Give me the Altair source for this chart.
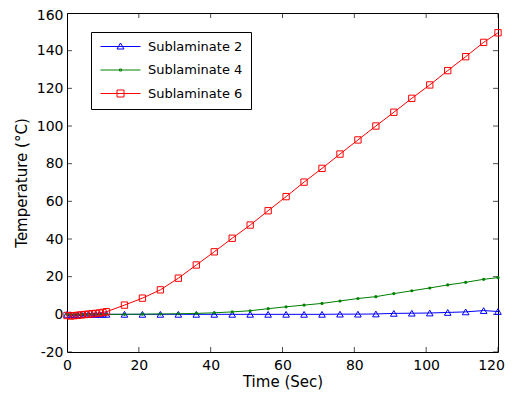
import altair as alt
import pandas as pd

# ---- data ----
time_s = [0, 1, 2, 3, 4, 5, 6, 7, 8, 9, 10, 11, 16, 21, 26, 31, 36, 41, 46, 51,
          56, 61, 66, 71, 76, 81, 86, 91, 96, 101, 106, 111, 116, 120]
sub2 = [0.0, -0.2, -0.3, -0.2, -0.1, 0.0, 0.0, 0.0, 0.0, 0.0, 0.0, 0.0,
        0.0, 0.0, 0.0, 0.0, 0.0, 0.0, 0.0, 0.0, 0.0, 0.0, 0.0, 0.0, 0.1, 0.1, 0.2,
        0.5, 0.6, 0.7, 1.0, 1.3, 2.0, 1.5]
sub4 = [0.0, 0.0, 0.0, 0.0, 0.0, 0.0, 0.0, 0.0, 0.0, 0.0, 0.0, 0.0,
        0.0, 0.1, 0.2, 0.3, 0.5, 0.8, 1.3, 1.9, 3.0, 4.0, 4.9, 5.8, 7.1, 8.4, 9.4,
        11.0, 12.5, 14.0, 15.6, 17.0, 18.6, 19.5]
sub6 = [-0.6, -0.9, -0.7, -0.5, -0.3, -0.1, 0.1, 0.3, 0.5, 0.7, 1.0, 1.4,
        4.9, 8.6, 13.0, 19.2, 26.2, 33.2, 40.4, 47.4, 55.0, 62.5, 70.2, 77.5, 85.1, 92.6, 100.0,
        107.3, 114.7, 121.8, 129.4, 136.8, 144.4, 149.5]
series_names = ["Sublaminate 2", "Sublaminate 4", "Sublaminate 6"]
colors = ["#0000ff", "#008000", "#ff0000"]
x_ticks = [0, 20, 40, 60, 80, 100, 120]
y_ticks = [-20, 0, 20, 40, 60, 80, 100, 120, 140, 160]

# legend symbols: line segment + marker (custom paths)
legend_paths = [
    "M-1,0H7M3,-0.7L3.7,0.5H2.3Z",
    "M-1,0H7M2.8,-0.2H3.2V0.2H2.8Z",
    "M-1,0H7M2.3,-0.7H3.7V0.7H2.3Z",
]

rows = []
for name, vals in zip(series_names, [sub2, sub4, sub6]):
    for t, v in zip(time_s, vals):
        rows.append({"t": t, "temp": v, "series": name})
df = pd.DataFrame(rows)
xtick_df = pd.DataFrame({"v": x_ticks})
ytick_df = pd.DataFrame({"v": y_ticks})

FONT = "DejaVu Sans"
xscale = alt.Scale(domain=[0, 120], nice=False, zero=False)
yscale = alt.Scale(domain=[-20, 160], nice=False, zero=False)
cscale = alt.Scale(domain=series_names, range=colors)

ax_x = alt.Axis(
    orient="bottom", values=x_ticks, title="Time (Sec)", ticks=False, tickSize=0,
    domain=False, grid=False, labelPadding=6, labelFlush=False, labelOverlap=False,
    labelFontSize=14, labelFont=FONT, labelColor="black", labelExpr="'' + datum.value",
    labelOffset={"condition": {"test": "datum.value === 120", "value": -7}, "value": 0},
    titleFontSize=15, titleFont=FONT, titleFontWeight="normal", titleColor="black",
    titlePadding=2)
ax_y = alt.Axis(
    orient="left", values=y_ticks, title="Temperature (°C)", ticks=False, tickSize=0,
    domain=False, grid=False, labelPadding=4, labelFlush=False, labelOverlap=False,
    labelFontSize=14, labelFont=FONT, labelColor="black", labelExpr="'' + datum.value",
    labelOffset={"condition": {"test": "datum.value === 160", "value": 2}, "value": 0},
    titleFontSize=15, titleFont=FONT, titleFontWeight="normal", titleColor="black",
    titlePadding=7)

def X(field):
    return alt.X(field, scale=xscale, axis=ax_x)

def Y(field):
    return alt.Y(field, scale=yscale, axis=ax_y)

c_none = alt.Color("series:N", scale=cscale, legend=None)

leg = alt.Legend(title=None, orient="none", legendX=24, legendY=19, padding=8,
                 rowPadding=9.5, labelOffset=36, symbolSize=100, symbolStrokeWidth=1,
                 labelFontSize=13, labelFont=FONT, labelColor="black",
                 strokeColor="black", fillColor="white", cornerRadius=0, symbolOpacity=1,
                 symbolFillColor="transparent")

base = alt.Chart(df)

# legend carrier (no marks drawn), first so its legend settings win
legend_layer = base.transform_filter("false").mark_point(filled=False).encode(
    x=X("t:Q"), y=Y("temp:Q"),
    color=alt.Color("series:N", scale=cscale, legend=leg),
    shape=alt.Shape("series:N", scale=alt.Scale(domain=series_names, range=legend_paths), legend=leg),
)

lines = base.mark_line(strokeWidth=1).encode(x=X("t:Q"), y=Y("temp:Q"), color=c_none)

tri = base.transform_filter(alt.datum.series == series_names[0]).mark_point(
    shape="triangle-up", size=44, filled=False, strokeWidth=1, opacity=1, color=colors[0]
).encode(x=X("t:Q"), y=Y("temp:Q"))
dots = base.transform_filter(alt.datum.series == series_names[1]).mark_point(
    shape="circle", size=10, filled=True, opacity=1, color=colors[1]
).encode(x=X("t:Q"), y=Y("temp:Q"))
sqs = base.transform_filter(alt.datum.series == series_names[2]).mark_point(
    shape="square", size=40, filled=False, strokeWidth=1, opacity=1, color=colors[2]
).encode(x=X("t:Q"), y=Y("temp:Q"))

# inward ticks on all four sides (half of each tick clipped away by the frame)
tick_style = dict(size=10, thickness=1, color="black", clip=True)
xt = alt.Chart(xtick_df)
yt = alt.Chart(ytick_df)
tick_bottom = xt.mark_tick(orient="vertical", **tick_style).encode(
    x=X("v:Q"), y=alt.Y(datum=-20, type="quantitative", scale=yscale, axis=ax_y))
tick_top = xt.mark_tick(orient="vertical", **tick_style).encode(
    x=X("v:Q"), y=alt.Y(datum=160, type="quantitative", scale=yscale, axis=ax_y))
tick_left = yt.mark_tick(orient="horizontal", **tick_style).encode(
    y=Y("v:Q"), x=alt.X(datum=0, type="quantitative", scale=xscale, axis=ax_x))
tick_right = yt.mark_tick(orient="horizontal", **tick_style).encode(
    y=Y("v:Q"), x=alt.X(datum=120, type="quantitative", scale=xscale, axis=ax_x))

chart = alt.layer(legend_layer, tick_bottom, tick_top, tick_left, tick_right,
                  lines, tri, dots, sqs).properties(
    width=431, height=339,
    autosize=alt.AutoSizeParams(type="none"),
    padding={"left": 59, "top": 5, "right": 7, "bottom": 38},
    background="white",
).configure_view(stroke="black", strokeWidth=1)

chart.save("out.html", embed_options={"renderer": "svg", "actions": False})
